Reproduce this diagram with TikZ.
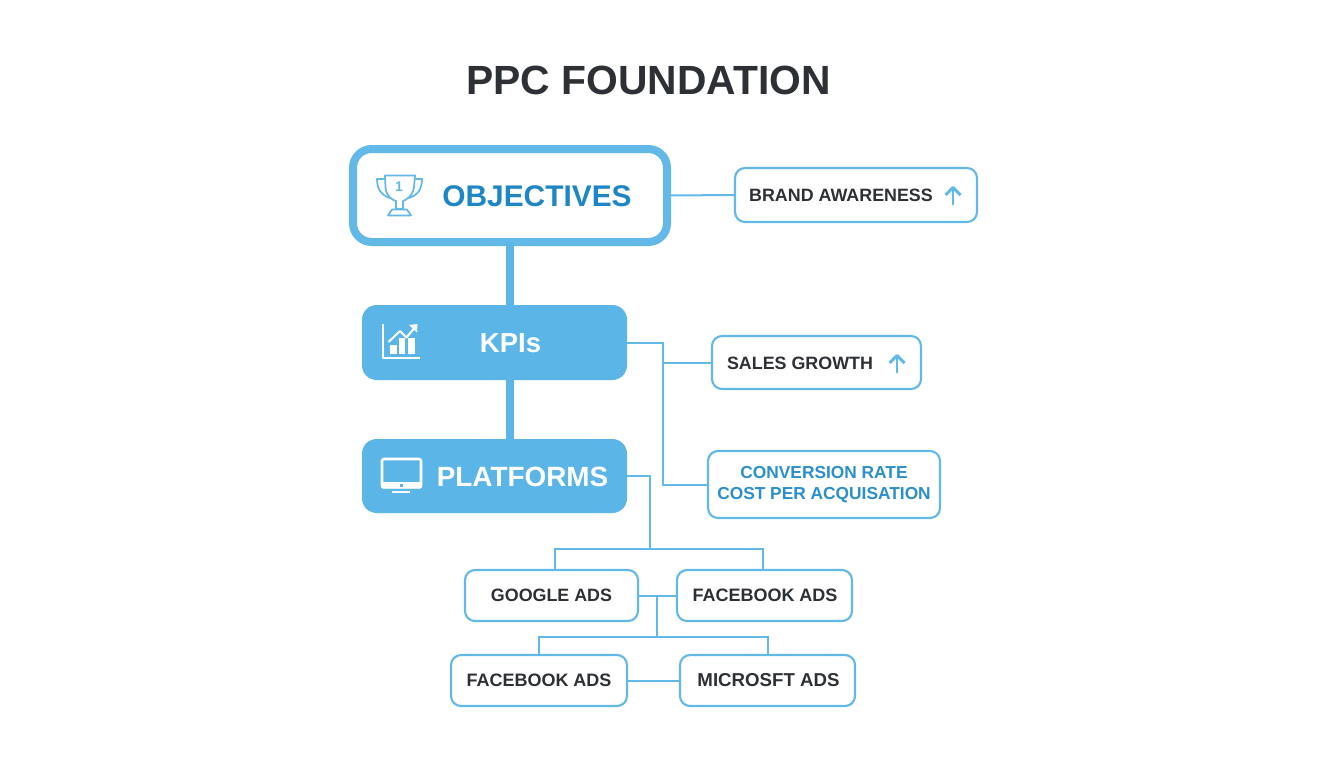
\documentclass[tikz,border=0pt]{standalone}
\usepackage{fontspec}
\setmainfont{Liberation Sans}
\definecolor{lineblue}{HTML}{62B8E6}
\definecolor{fillblue}{HTML}{5BB5E6}
\definecolor{deepblue}{HTML}{1E86C4}
\definecolor{midblue}{HTML}{2A8FCC}
\definecolor{inkdark}{HTML}{2D3136}
\tikzset{
  sized/.style 2 args={minimum width=#1*0.75pt,minimum height=#2*0.75pt},
  basebox/.style={inner sep=0pt,outer sep=0pt,rectangle},
  mainout/.style={basebox,draw=lineblue,fill=white,line width=6pt,rounded corners=14pt},
  mainfill/.style={basebox,fill=fillblue,rounded corners=11pt},
  smallbox/.style={basebox,draw=lineblue,fill=white,line width=1.6pt,rounded corners=7.5pt},
  trunk/.style={draw=fillblue,line width=6pt},
  thin link/.style={draw=lineblue,line width=1.5pt},
  tsize/.style={font=\fontsize{#1}{#1}\selectfont\bfseries,inner sep=0pt,outer sep=0pt},
  small text/.style={tsize=13.4pt,text=inkdark},
  up arrow/.style={draw=lineblue,line width=2.2pt},
  icon line/.style={draw=white,line width=1.5pt,line join=round},
  trophy line/.style={draw=lineblue,line width=1.3pt,line join=round},
}
\begin{document}
\begin{tikzpicture}[x=0.75pt,y=-0.75pt]
\useasboundingbox (0,0) rectangle (1344,768);
\fill[white] (0,0) rectangle (1344,768);

% connector joints
\coordinate (kj) at (663,342.5);
\coordinate (pj) at (650,549);
\coordinate (mj) at (657,596);
\coordinate (lj) at (657,637);

% boxes
\node[mainout,sized={314}{93}] (obj) at (510,195.5) {};
\node[mainfill,sized={265}{75}] (kpi) at (494.5,342.5) {};
\node[mainfill,sized={265}{74}] (plat) at (494.5,476) {};
\node[smallbox,sized={242}{54}] (brand) at (856,195) {};
\node[smallbox,sized={209}{53}] (sales) at (816.5,362.5) {};
\node[smallbox,sized={232}{67}] (conv) at (824,484.5) {};
\node[smallbox,sized={173}{51}] (google) at (551.5,595.5) {};
\node[smallbox,sized={175}{51}] (fba) at (764.5,595.5) {};
\node[smallbox,sized={176}{51}] (fbb) at (539,680.5) {};
\node[smallbox,sized={175}{51}] (ms) at (767.5,680.5) {};

% connectors
\draw[trunk] (obj.south) -- (kpi.north -| obj.south);
\draw[trunk] (kpi.south -| obj.south) -- (plat.north -| obj.south);
\draw[thin link] (obj.east) -- (brand.west);
\draw[thin link] (kpi.east) -- (kj) |- (conv.west);
\draw[thin link] (kj |- sales.west) -- (sales.west);
\draw[thin link] (plat.east) -| (pj);
\draw[thin link] ([xshift=2.6pt]google.north) |- (pj) -| ([xshift=-1.1pt]fba.north);
\draw[thin link] (google.east) -- (fba.west);
\draw[thin link] (mj) -- (lj);
\draw[thin link] (fbb.north) |- (lj) -| (ms.north);
\draw[thin link] (fbb.east) -- (ms.west);

% title and labels
\node[tsize=30.6pt,text=inkdark] (title) at (648.5,80.5) {PPC FOUNDATION};
\node[tsize=22.4pt,text=deepblue] (tobj) at (537,196.5) {OBJECTIVES};
\node[tsize=20.6pt,text=white] (tkpi) at (510.5,343.5) {KPIs};
\node[tsize=20.9pt,text=white] (tplat) at (522.5,476.5) {PLATFORMS};
\node[small text] (tbrand) at (841,195.5) {BRAND AWARENESS};
\node[small text] (tsales) at (800,363) {SALES GROWTH};
\node[tsize=13pt,text=midblue,align=center] (tconv) at (824,484.5) {CONVERSION RATE\\[2.75pt]COST PER ACQUISATION};
\node[small text] (tgoogle) at (551.5,595.5) {GOOGLE ADS};
\node[tsize=13.5pt,text=inkdark] (tfba) at (765,595.5) {FACEBOOK ADS};
\node[tsize=13.5pt,text=inkdark] (tfbb) at (539,680.5) {FACEBOOK ADS};
\node[tsize=14pt,text=inkdark] (tms) at (768.5,680.5) {MICROSFT ADS};

% small up arrows
\draw[up arrow] (953,205) -- (953,188);
\draw[up arrow,line join=round] (945.5,195) -- (953,187.5) -- (960.5,195);
\draw[up arrow] (897,373) -- (897,356);
\draw[up arrow,line join=round] (889.5,363) -- (897,355.5) -- (904.5,363);

% trophy icon
\draw[trophy line] (385,175.5) -- (415,175.5) -- (414,187) .. controls (413,196) and (406,200) .. (403,201)
  -- (403,209) -- (396,209) -- (396,201) .. controls (392,200) and (386,196) .. (385.5,187) -- cycle;
\draw[trophy line] (385,179) -- (377,179) .. controls (377,189) and (381,195) .. (390,198);
\draw[trophy line] (415,179) -- (422,179) .. controls (422,189) and (418,195) .. (409,198);
\draw[trophy line] (392,209.5) -- (407,209.5) -- (411,215.5) -- (388,215.5) -- cycle;
\node[tsize=10.5pt,text=lineblue] (tone) at (399,187) {1};

% chart icon
\draw[icon line] (383,324) -- (383,358) -- (420,358);
\fill[white] (390,345) rectangle (397,354);
\fill[white] (398.5,338) rectangle (405,354);
\fill[white] (407.5,338) rectangle (415,354);
\draw[icon line] (388.5,342) -- (400,331) -- (406.5,337.5) -- (416,326);
\fill[white] (409,325) -- (417.5,324) -- (417,332.5) -- cycle;

% monitor icon
\draw[white,line width=1.9pt,rounded corners=1.5pt] (382,459) rectangle (421,487);
\fill[white,rounded corners=1pt] (381,482) rectangle (422,488.5);
\fill[fillblue] (399.5,483.5) rectangle (403,486.5);
\fill[white] (392,490.5) rectangle (410,493);
\end{tikzpicture}
\end{document}
